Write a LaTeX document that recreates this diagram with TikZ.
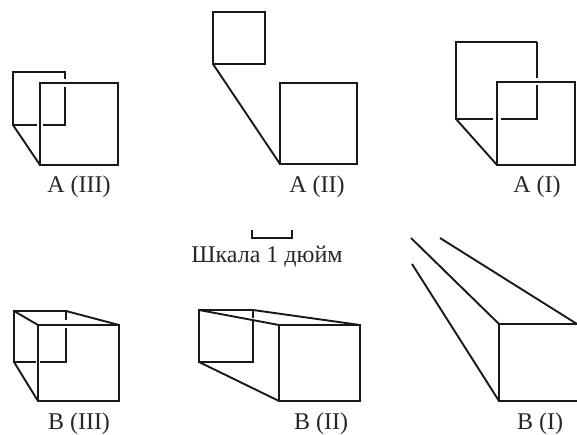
\documentclass[tikz,border=0pt]{standalone}
\usepackage{fontspec}
\setmainfont{Liberation Serif}
\tikzset{
  edge/.style={line width=1.9pt,line cap=butt,line join=miter,draw=black!90},
  thinedge/.style={line width=1.1pt,draw=black!90},
  heavy/.style={line width=2.6pt,line join=miter,draw=black!90},
  lab/.style={anchor=base,inner sep=0pt,font=\fontsize{24}{28}\selectfont,text=black!85}
}
\begin{document}
\begin{tikzpicture}[x=1pt,y=-1pt]
\useasboundingbox (0,0) rectangle (577,435);
% A (III)
\draw[heavy] (65,79) -- (65,72) -- (13,72) -- (13,125) -- (37,125);
\draw[edge] (43,125) -- (65,125) -- (65,87);
\draw[edge] (13,125) -- (40,165);
\draw[edge] (40,83) rectangle (118,165);
\node[lab] (a3) at (79,193) {А (III)};
% A (II)
\draw[edge] (213,12) rectangle (265,64);
\draw[edge] (213,64) -- (280,164);
\draw[edge] (280,83) rectangle (357,164);
\node[lab] (a2) at (317,193) {А (II)};
% A (I)
\draw[edge] (537,78) -- (537,42);
\draw[heavy] (537,42) -- (456,42) -- (456,119) -- (493,119);
\draw[edge] (501,119) -- (537,119) -- (537,85);
\draw[edge] (456,119) -- (497,165);
\draw[edge] (497,82) rectangle (575,165);
\node[lab] (a1) at (537,193) {А (I)};
% scale
\draw[thinedge] (252,230) -- (252,238) -- (292,238) -- (292,230);
\node[lab] (scale) at (267,262) {Шкала 1 дюйм};
% B (III)
\draw[edge] (66,320) -- (66,311) -- (14,311) -- (14,362) -- (36,362);
\draw[edge] (40,362) -- (66,362) -- (66,328);
\draw[edge] (14,311) -- (38,325);
\draw[edge] (66,311) -- (119,325);
\draw[edge] (14,362) -- (38,401);
\draw[edge] (38,325) rectangle (119,401);
\node[lab] (b3) at (79,429) {В (III)};
% B (II)
\draw[thinedge] (253,310) -- (253,318);
\draw[heavy] (253,321) -- (253,362) -- (199,362) -- (199,310) -- (253,310);
\draw[edge] (199,310) -- (279,325);
\draw[edge] (253,310) -- (360,325);
\draw[edge] (199,362) -- (279,401);
\draw[edge] (279,325) rectangle (360,401);
\node[lab] (b2) at (321,429) {В (II)};
% B (I)
\draw[edge] (411,238) -- (499,324);
\draw[edge] (440,238) -- (577,324);
\draw[edge] (412,264) -- (499,401);
\draw[edge] (577,324) -- (499,324) -- (499,401) -- (577,401);
\node[lab] (b1) at (540,429) {В (I)};
\end{tikzpicture}
\end{document}
